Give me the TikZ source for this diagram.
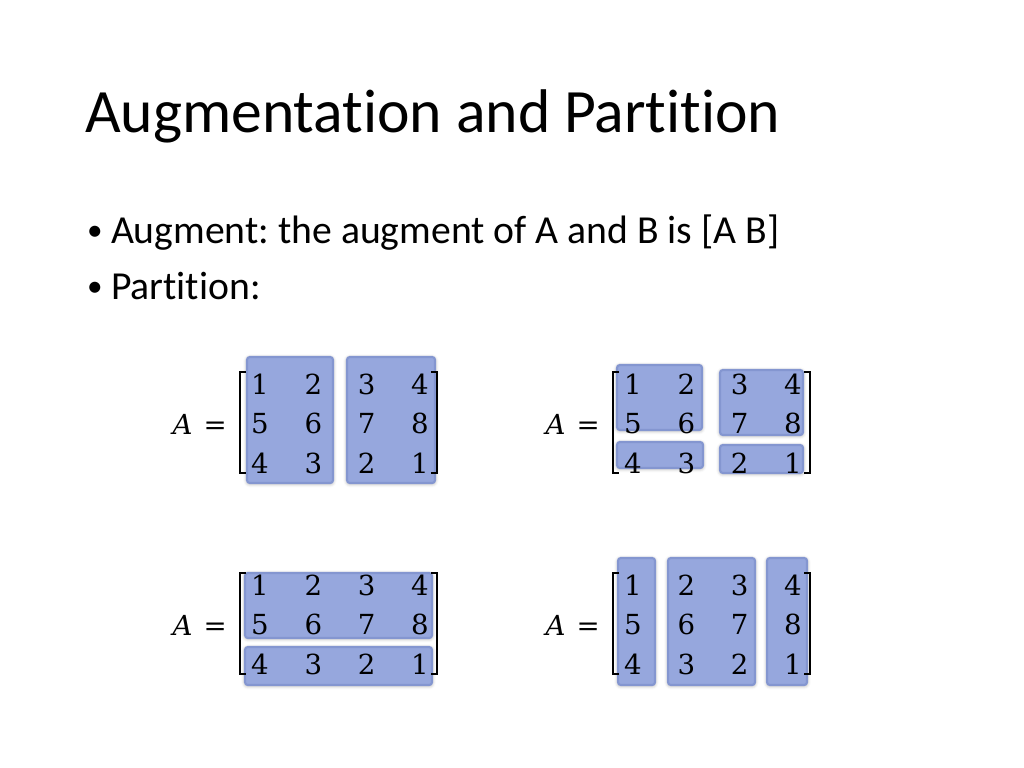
\documentclass[tikz,border=0pt]{standalone}
\usepackage{fontspec}
\setmainfont{Carlito}[Ligatures=NoCommon]
\newfontfamily\mathish{DejaVu Serif}
\usetikzlibrary{shadows.blur}
\frenchspacing

\definecolor{partblue}{RGB}{150,167,221}
\definecolor{partedge}{RGB}{132,150,208}

\tikzset{
  title/.style={anchor=base west, font=\fontsize{43.5}{50}\selectfont},
  item/.style={anchor=base west, font=\fontsize{28}{34}\selectfont},
  dot/.style={anchor=base west, font=\fontsize{22}{26}\selectfont},
  entry/.style={inner sep=0pt, font=\mathish\fontsize{19.5}{24}\selectfont},
  part/.style={fill=partblue, draw=partedge, line width=1.5pt, rounded corners=2pt,
    blur shadow={shadow xshift=0pt, shadow yshift=-0.6pt, shadow blur radius=2.5pt, shadow opacity=35}},
  bracket/.style={line width=1.3pt}
}

% one 3x4 matrix with its brackets, bracket corner at (#2,#3)
\newcommand{\partmatrix}[3]{%
  \node[entry, anchor=east] (#1-lhs) at (#2-13,#3+52) {\itshape A\upshape\hspace{0.4em}=};
  \foreach \row [count=\r] in {{1,2,3,4},{5,6,7,8},{4,3,2,1}}
    \foreach \v [count=\c] in \row
      \node[entry] (#1-\r-\c) at ({#2+20+53.3*(\c-1)},{#3+12+39.5*(\r-1)}) {\v};
  \draw[bracket] (#2+6,#3) -- (#2,#3) -- (#2,#3+101) -- (#2+6,#3+101);
  \draw[bracket] (#2+191,#3) -- (#2+197,#3) -- (#2+197,#3+101) -- (#2+191,#3+101);
}

\begin{document}
\begin{tikzpicture}[x=0.70576pt, y=-0.70576pt]
  \useasboundingbox (0,0) rectangle (1024,768);

  % Text
  \node[title] (head) at (80,133) {Augmentation and Partition};
  \node[dot] (dot1) at (82,240) {•};
  \node[item] (aug) at (106,243) {Augment: the augment of A and B is [A B]};
  \node[dot] (dot2) at (82,296) {•};
  \node[item] (par) at (106,299) {Partition:};

  % Blocks
  \path[part] (247,357) rectangle (333,483);
  \path[part] (347,357) rectangle (435,483);

  \path[part] (617,365) rectangle (702,430);
  \path[part] (617,442) rectangle (703,468);
  \path[part] (720,370) rectangle (803,435);
  \path[part] (720,445) rectangle (803,473);

  \path[part] (245,573) rectangle (432,638);
  \path[part] (245,647) rectangle (432,685);

  \path[part] (618,558) rectangle (655,685);
  \path[part] (668,558) rectangle (755,685);
  \path[part] (767,558) rectangle (807,685);

  % Matrices
  \partmatrix{ma}{240}{372}
  \partmatrix{mb}{613}{372}
  \partmatrix{mc}{240}{573}
  \partmatrix{md}{613}{573}
\end{tikzpicture}
\end{document}
